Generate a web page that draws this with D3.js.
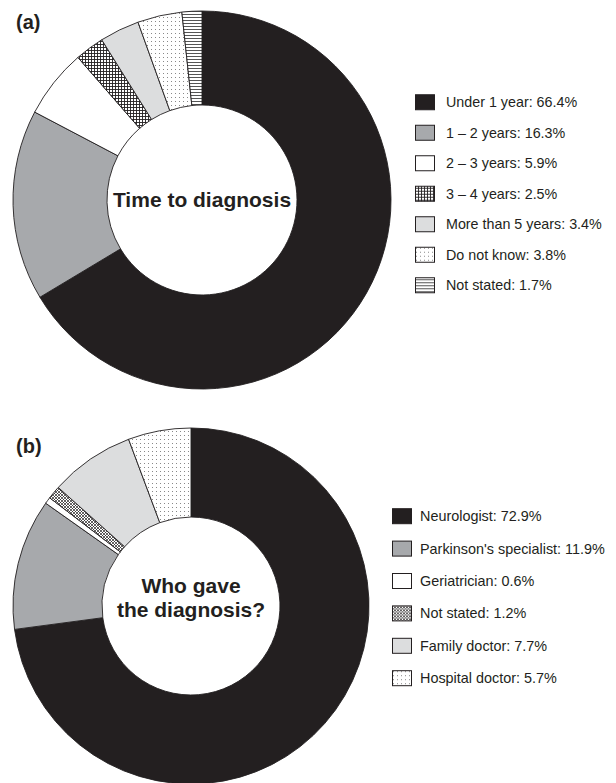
<!DOCTYPE html>
<html>
<head>
<meta charset="utf-8">
<script src="https://cdn.jsdelivr.net/npm/d3@7"></script>
<style>
  body { margin: 0; background: #fff; }
  svg { display: block; font-family: "Liberation Sans", Arial, sans-serif; }
</style>
</head>
<body>
<svg id="chart" width="616" height="783"></svg>
<script>
// panel (a)
const timeLabels = ["Under 1 year", "1 \u2013 2 years", "2 \u2013 3 years", "3 \u2013 4 years", "More than 5 years", "Do not know", "Not stated"];
const timeValues = [66.4, 16.3, 5.9, 2.5, 3.4, 3.8, 1.7];

// panel (b)
const whoLabels = ["Neurologist", "Parkinson's specialist", "Geriatrician", "Not stated", "Family doctor", "Hospital doctor"];
const whoValues = [72.9, 11.9, 0.6, 1.2, 7.7, 5.7];

const ink = "#231f20";
const timeFills = [ink, "#a7a9ac", "#fff", "url(#grid)", "#dcddde", "url(#dots)", "url(#hlines)"];
const whoFills = [ink, "#a7a9ac", "#fff", "url(#xhatch)", "#dcddde", "url(#dots)"];

const svg = d3.select("#chart");
const defs = svg.append("defs");

function makePattern(id, size, draw) {
  const p = defs.append("pattern")
    .attr("id", id)
    .attr("patternUnits", "userSpaceOnUse")
    .attr("width", size)
    .attr("height", size);
  p.append("rect").attr("width", size).attr("height", size).attr("fill", "#fff");
  draw(p);
}

makePattern("grid", 3, p => p.append("path")
  .attr("d", "M0 0.5H3M0.5 0V3")
  .attr("stroke", ink).attr("stroke-width", 0.9).attr("fill", "none"));

makePattern("hlines", 3, p => p.append("path")
  .attr("d", "M0 0.5H3")
  .attr("stroke", "#555").attr("stroke-width", 1).attr("fill", "none"));

makePattern("dots", 4, p => p.append("rect")
  .attr("x", 1).attr("y", 1).attr("width", 1).attr("height", 1)
  .attr("fill", "#888"));

makePattern("xhatch", 3, p => p.append("path")
  .attr("d", "M0 0L3 3M3 0L0 3")
  .attr("stroke", ink).attr("stroke-width", 0.7).attr("fill", "none"));

function drawDonut(opts) {
  const { cx, cy, outer, inner, labels, values, fills, tag, tagY, legendX, legendY, legendStep, textGap, fontSize, titleLines, titleDy } = opts;

  const g = svg.append("g").attr("transform", `translate(${cx}, ${cy})`);

  const pie = d3.pie().sort(null).value(d => d)(values);
  const arc = d3.arc().innerRadius(inner).outerRadius(outer);

  g.selectAll("path.slice")
    .data(pie)
    .enter()
    .append("path")
    .attr("class", "slice")
    .attr("d", arc)
    .attr("fill", (d, i) => fills[i])
    .attr("stroke", ink)
    .attr("stroke-width", 0.9)
    .attr("stroke-linejoin", "round");

  // centre title
  const t = g.append("text")
    .attr("text-anchor", "middle")
    .attr("font-weight", "bold")
    .attr("font-size", 21)
    .attr("fill", ink);
  const lh = 24;
  titleLines.forEach((line, i) => {
    t.append("tspan")
      .attr("x", 0)
      .attr("y", (i - (titleLines.length - 1) / 2) * lh + titleDy)
      .text(line);
  });

  // panel tag
  svg.append("text")
    .attr("x", 16)
    .attr("y", tagY)
    .attr("font-weight", "bold")
    .attr("font-size", 20)
    .attr("fill", ink)
    .text(tag);

  // legend
  const y = d3.scaleBand()
    .domain(labels)
    .range([legendY, legendY + legendStep * labels.length]);

  const rows = svg.append("g").selectAll("g")
    .data(labels)
    .enter()
    .append("g")
    .attr("transform", d => `translate(${legendX}, ${y(d) + y.bandwidth() / 2})`);

  rows.append("rect")
    .attr("x", 0.5)
    .attr("y", -7.5)
    .attr("width", 19)
    .attr("height", 15)
    .attr("fill", (d, i) => fills[i])
    .attr("stroke", ink)
    .attr("stroke-width", 1);

  rows.append("text")
    .attr("x", textGap)
    .attr("y", 5)
    .attr("font-size", fontSize)
    .attr("fill", ink)
    .text((d, i) => `${d}: ${values[i].toFixed(1)}%`);
}

drawDonut({
  cx: 202, cy: 200, outer: 189, inner: 95,
  labels: timeLabels, values: timeValues, fills: timeFills,
  titleLines: ["Time to diagnosis"], titleDy: 7,
  tag: "(a)", tagY: 29,
  legendX: 415, legendY: 87, legendStep: 30.5, textGap: 31, fontSize: 14.3
});

drawDonut({
  cx: 191, cy: 606, outer: 178, inner: 89,
  labels: whoLabels, values: whoValues, fills: whoFills,
  titleLines: ["Who gave", "the diagnosis?"], titleDy: -1,
  tag: "(b)", tagY: 453,
  legendX: 392, legendY: 500, legendStep: 32.4, textGap: 28, fontSize: 14.4
});
</script>
</body>
</html>
